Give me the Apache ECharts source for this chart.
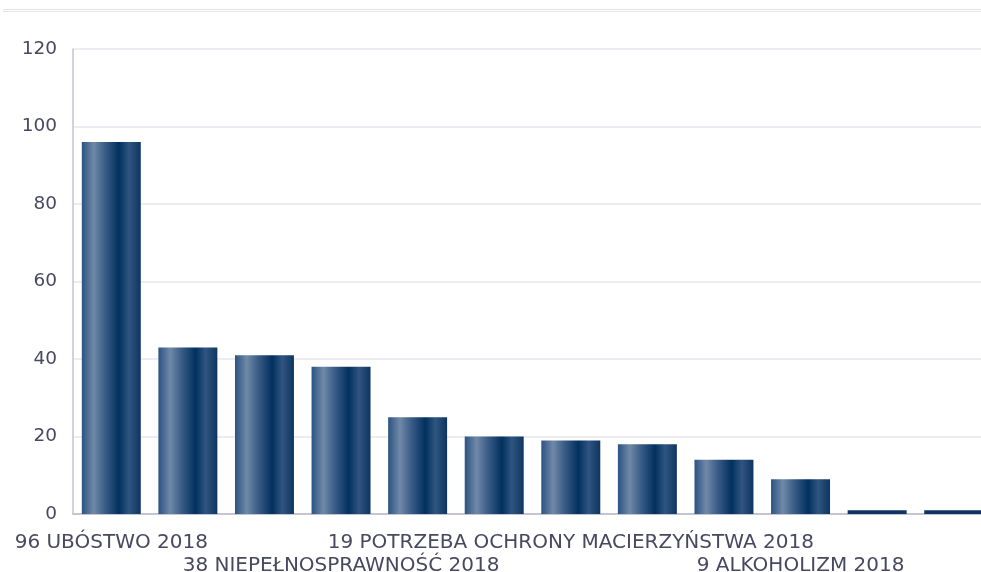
<!DOCTYPE html>
<html>
<head>
<meta charset="utf-8">
<title>Powody przyznania pomocy 2018</title>
<script src="https://cdn.jsdelivr.net/npm/echarts@6/dist/echarts.min.js"></script>
<style>
  html, body { margin: 0; padding: 0; background: #ffffff; }
  #chart { width: 981px; height: 572px; }
</style>
</head>
<body>
<div id="chart"></div>
<script>
// kategorie (etykiety osi X)
const categories = [
  '96 UBÓSTWO 2018',
  '43 BEZROBOCIE 2018',
  '41 DŁUGOTRWAŁA LUB CIĘŻKA CHOROBA 2018',
  '38 NIEPEŁNOSPRAWNOŚĆ 2018',
  '25 BEZRADNOŚĆ W SPRAWACH OPIEKUŃCZO-WYCHOWAWCZYCH 2018',
  '20 WIELODZIETNOŚĆ 2018',
  '19 POTRZEBA OCHRONY MACIERZYŃSTWA 2018',
  '18 RODZINY NIEPEŁNE 2018',
  '14 BEZDOMNOŚĆ 2018',
  '9 ALKOHOLIZM 2018',
  '1 PRZEMOC W RODZINIE 2018',
  '1 NARKOMANIA 2018',
];

// wartości słupków
const values = [96, 43, 41, 38, 25, 20, 19, 18, 14, 9, 1, 1];

// oś Y
const yMin = 0;
const yMax = 120;
const yStep = 20;

const chart = echarts.init(document.getElementById('chart'));

const textColor = '#484860';
const gridColor = '#e6e6ee';
const axisColor = '#c4c4d4';

// gradient "walca" na słupkach
const barGradient = new echarts.graphic.LinearGradient(0, 0, 1, 0, [
  { offset: 0, color: '#2b5383' },
  { offset: 0.2, color: '#7089a7' },
  { offset: 0.38, color: '#3d5f89' },
  { offset: 0.63, color: '#02305f' },
  { offset: 0.8, color: '#2f5580' },
  { offset: 1, color: '#0e3461' },
]);

const labelStyle = {
  margin: 18,
  color: textColor,
  fontFamily: 'DejaVu Sans',
  fontSize: 20,
  lineHeight: 22,
};

const option = {
  backgroundColor: '#ffffff',
  animation: false,
  textStyle: {
    fontFamily: 'DejaVu Sans',
  },
  graphic: [
    {
      type: 'line',
      shape: { x1: 3, y1: 9.5, x2: 981, y2: 9.5 },
      style: { stroke: '#e4e4ec', lineWidth: 1 },
    },
    {
      type: 'line',
      shape: { x1: 3, y1: 11.5, x2: 981, y2: 11.5 },
      style: { stroke: '#e4e4ec', lineWidth: 1 },
    },
  ],
  grid: {
    left: 73,
    width: 919,
    top: 49,
    bottom: 58,
    containLabel: false,
    outerBoundsMode: 'none',
  },
  xAxis: [
    {
      // pierwszy rząd etykiet
      type: 'category',
      data: categories,
      axisLine: {
        lineStyle: { color: axisColor, width: 2 },
      },
      axisTick: { show: false },
      axisLabel: {
        ...labelStyle,
        interval: (index) => index % 6 === 0,
      },
    },
    {
      // drugi rząd etykiet (przesunięty w dół)
      type: 'category',
      data: categories,
      position: 'bottom',
      offset: 23,
      axisLine: { show: false },
      axisTick: { show: false },
      splitLine: { show: false },
      axisLabel: {
        ...labelStyle,
        interval: (index) => index % 6 === 3,
      },
    },
  ],
  yAxis: {
    type: 'value',
    min: yMin,
    max: yMax,
    interval: yStep,
    axisLine: {
      show: true,
      lineStyle: { color: axisColor, width: 1.5 },
    },
    axisTick: { show: false },
    axisLabel: {
      margin: 16,
      color: textColor,
      fontSize: 18.5,
    },
    splitLine: {
      lineStyle: { color: gridColor, width: 1.5 },
    },
  },
  series: [
    {
      type: 'bar',
      xAxisIndex: 0,
      barWidth: '77%',
      data: values.map(v => (v < 2 ? { value: v, itemStyle: { color: '#0b3464' } } : v)),
      itemStyle: {
        color: barGradient,
      },
    },
  ],
};

chart.setOption(option);
</script>
</body>
</html>
